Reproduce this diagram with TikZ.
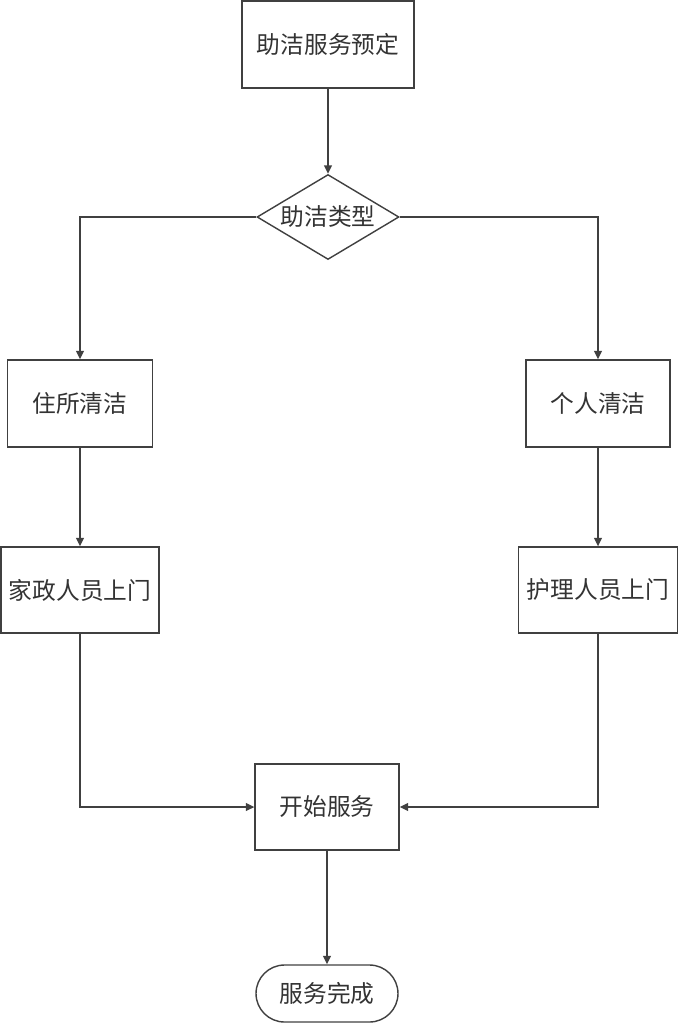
\documentclass[tikz,border=0pt]{standalone}
\usepackage{fontspec}
\newfontfamily\cjk{Noto Sans CJK SC}
\usetikzlibrary{shapes.geometric, arrows.meta}
\tikzset{
box/.style = {rectangle, draw=black!75, line width=0.8pt, fill=white,
              minimum width=#1, minimum height=1.74cm,
              inner sep=0pt, font=\cjk\fontsize{13.5}{15}\selectfont, text=black!80},
box/.default = 2.9cm, % width of the box
choice/.style = {diamond, shape aspect=1.67, draw=black!75, line width=0.8pt, fill=white,
                 minimum width=2.84cm, minimum height=1.70cm, inner sep=0pt,
                 font=\cjk\fontsize{13.5}{15}\selectfont, text=black!80},
stop/.style = {rectangle, rounded corners=0.57cm, draw=black!75, line width=0.8pt,
               minimum width=2.84cm, minimum height=1.14cm, inner sep=0pt,
               font=\cjk\fontsize{13.5}{15}\selectfont, text=black!80},
flow/.style = {draw=black!75, line width=0.8pt,
               -{Triangle[length=1.7mm, width=1.6mm]}}
}

\begin{document}
\begin{tikzpicture}[x=0.02cm, y=-0.02cm]
	\useasboundingbox (0,0) rectangle (678,1024);
	\def \xl{80}
	\def \xm{328}
	\def \xr{598}

	% Nodes
	\node[box=3.44cm] (order) at (\xm,44.5) {助洁服务预定};
	\node[choice] (type) at (\xm,217) {助洁类型};
	\node[box=2.9cm] (home) at (\xl,403.5) {住所清洁};
	\node[box=2.88cm] (self) at (\xr,403.5) {个人清洁};
	\node[box=3.16cm, minimum height=1.72cm] (maid) at (\xl,590) {家政人员上门};
	\node[box=3.18cm, minimum height=1.72cm] (nurse) at (\xr,590) {护理人员上门};
	\node[box=2.88cm, minimum height=1.72cm] (start) at (327,807) {开始服务};
	\node[stop] (done) at (327,993.5) {服务完成};

	% Connectors
	\draw[flow] (order) -- (type);
	\draw[flow] (type.west) -| (home.north);
	\draw[flow] (type.east) -| (self.north);
	\draw[flow] (home) -- (maid);
	\draw[flow] (self) -- (nurse);
	\draw[flow] (maid.south) |- (start.west);
	\draw[flow] (nurse.south) |- (start.east);
	\draw[flow] (start) -- (done);

\end{tikzpicture}
\end{document}
